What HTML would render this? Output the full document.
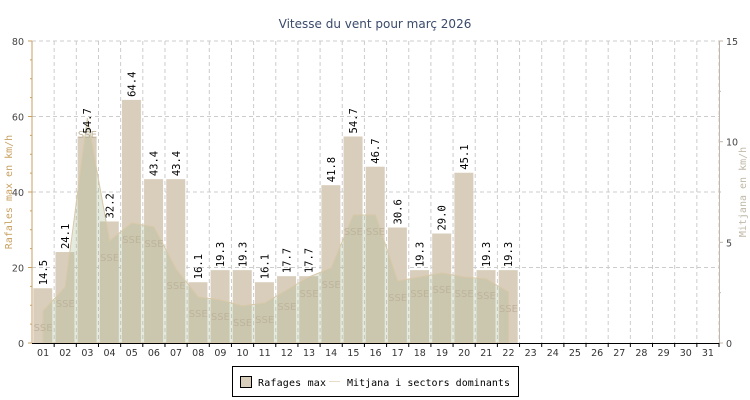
<!DOCTYPE html>
<html><head><meta charset="utf-8"><style>
html,body{margin:0;padding:0;background:#fff;width:750px;height:400px;overflow:hidden}
svg text{font-family:"DejaVu Sans Mono","Liberation Mono",monospace}
</style></head><body>
<svg id="c" width="750" height="400" xmlns="http://www.w3.org/2000/svg"></svg>
<script>
var s='';
var L=32,R=719,T=41,B=343,W=(R-L)/31,ppu=(B-T)/80;
s+='<text x="375" y="28" text-anchor="middle" font-size="12" fill="#3a4a6a" style="font-family:\'DejaVu Sans\',sans-serif">Vitesse du vent pour març 2026</text>';
for(var v=20;v<=80;v+=20){var y=B-v*ppu;s+='<line x1="'+L+'" x2="'+R+'" y1="'+y+'" y2="'+y+'" stroke="#ccc" stroke-dasharray="4,3"/>';}
for(var i=1;i<=31;i++){var x=L+i*W;s+='<line x1="'+x+'" x2="'+x+'" y1="'+T+'" y2="'+B+'" stroke="#ccc" stroke-dasharray="4,3"/>';}
var vals=[14.5,24.1,54.7,32.2,64.4,43.4,43.4,16.1,19.3,19.3,16.1,17.7,17.7,41.8,54.7,46.7,30.6,19.3,29.0,45.1,19.3,19.3];
var ly=[311,287,118,241,223,227,269,297,300,306,303,290,277,268,215,215,281,277,273,277,279,292];
vals.forEach(function(v,k){var x=L+k*W+1.3,y=B-v*ppu;s+='<rect x="'+x+'" y="'+y+'" width="19" height="'+(B-y)+'" fill="#d9cdbb"/>';});
var p='M'+(L+0.5*W)+','+B;
ly.forEach(function(y,k){p+=' L'+(L+(k+0.5)*W)+','+y;});
p+=' L'+(L+21.5*W)+','+B+' Z';
s+='<path d="'+p+'" fill="rgba(170,185,145,0.3)" stroke="#d8c8a8" stroke-width="1"/>';
ly.forEach(function(y,k){var x=L+(k+0.5)*W;s+='<text x="'+x+'" y="'+Math.min(y+20,340)+'" text-anchor="middle" font-size="10" fill="#bfb39c" style="font-family:\'DejaVu Sans\',sans-serif">SSE</text>';});
vals.forEach(function(v,k){var x=L+k*W+1.3+13.5,y=B-v*ppu-3;s+='<text transform="translate('+x+','+y+') rotate(-90)" font-size="10.5" fill="#000">'+v.toFixed(1)+'</text>';});
s+='<line x1="'+L+'" x2="'+L+'" y1="'+T+'" y2="'+B+'" stroke="#c8a060"/>';
s+='<line x1="'+(R+0.5)+'" x2="'+(R+0.5)+'" y1="'+T+'" y2="'+B+'" stroke="#c0b8a8"/>';
s+='<line x1="'+L+'" x2="'+R+'" y1="'+(B+0.5)+'" y2="'+(B+0.5)+'" stroke="#000"/>';
for(var v=0;v<=80;v+=5){var y=B-v*ppu;s+='<line x1="'+(L-(v%20?2:4))+'" x2="'+L+'" y1="'+y+'" y2="'+y+'" stroke="#c8a060"/>';if(v%20==0)s+='<text x="'+(L-8)+'" y="'+(y+4)+'" text-anchor="end" font-size="9.5" fill="#444" style="font-family:\'DejaVu Sans\',sans-serif">'+v+'</text>';}
for(var v=0;v<=15;v+=2.5){var y=B-v*(B-T)/15;s+='<line x1="'+R+'" x2="'+(R+(v%5?2:4))+'" y1="'+y+'" y2="'+y+'" stroke="#c0b8a8"/>';if(v%5==0)s+='<text x="'+(R+7)+'" y="'+(y+4)+'" font-size="9.5" fill="#444" style="font-family:\'DejaVu Sans\',sans-serif">'+v+'</text>';}
for(var i=0;i<31;i++){var x=L+(i+1)*W;s+='<line x1="'+x+'" x2="'+x+'" y1="'+B+'" y2="'+(B+4)+'" stroke="#000"/>';var d=(i+1<10?'0':'')+(i+1);s+='<text x="'+(L+(i+0.5)*W)+'" y="'+(B+13)+'" text-anchor="middle" font-size="9.5" fill="#333" style="font-family:\'DejaVu Sans\',sans-serif">'+d+'</text>';}
s+='<text transform="translate(12,192) rotate(-90)" text-anchor="middle" font-size="10" fill="#c8a060">Rafales max en km/h</text>';
s+='<text transform="translate(746,192) rotate(-90)" text-anchor="middle" font-size="10" fill="#c0b8a8">Mitjana en km/h</text>';
s+='<rect x="232.5" y="366.5" width="286" height="30" fill="#fff" stroke="#000"/>';
s+='<rect x="240.5" y="376.5" width="11" height="11" fill="#d9cdbb" stroke="#000"/>';
s+='<text x="258" y="386" font-size="10" textLength="68" fill="#000">Rafages max</text>';
s+='<line x1="329" x2="340" y1="381.5" y2="381.5" stroke="#e8dcc8"/>';
s+='<text x="347" y="386" font-size="10" textLength="163" fill="#000">Mitjana i sectors dominants</text>';
document.getElementById('c').innerHTML=s;
</script>
</body></html>
